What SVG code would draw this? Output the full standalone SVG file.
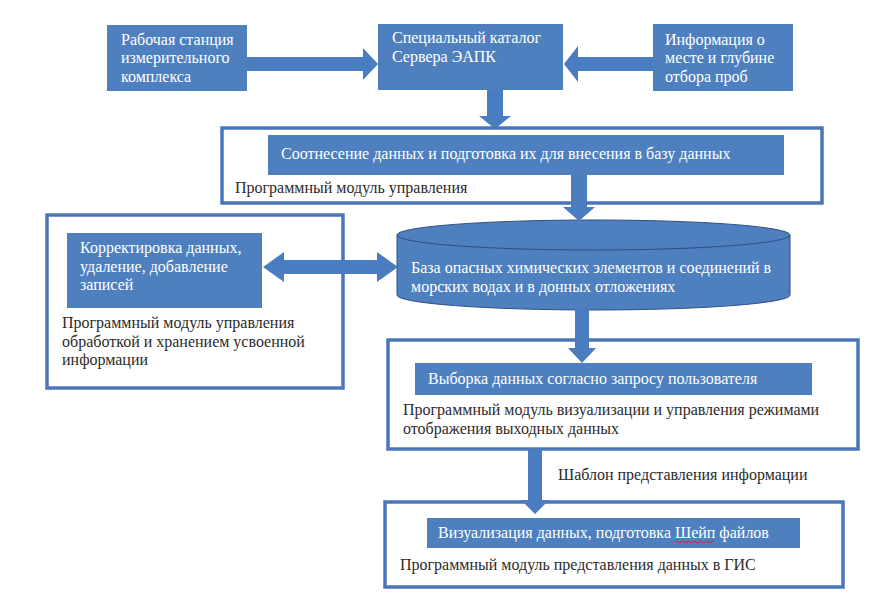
<svg xmlns="http://www.w3.org/2000/svg" width="881" height="611" viewBox="0 0 881 611" font-family="'Liberation Serif', 'DejaVu Serif', serif">
<style>
.blue{fill:#4e7fbf;}
.outer{fill:#ffffff;stroke:#4a76b8;stroke-width:3.5;}
.arrow{fill:#4a7cc0;}
.wt{font-size:16px;fill:#ffffff;}
.dt{font-size:16px;fill:#2b2b2b;}
</style>
<rect width="881" height="611" fill="#ffffff"/>
<g id="n1">
<rect class="blue" x="107" y="25" width="140" height="66"/>
<text class="wt" x="121" y="45">Рабочая станция</text>
<text class="wt" x="121" y="63">измерительного</text>
<text class="wt" x="121" y="82">комплекса</text>
</g>
<g id="n2">
<rect class="blue" x="378" y="24" width="185" height="66"/>
<text class="wt" x="392" y="43">Специальный каталог</text>
<text class="wt" x="392" y="62">Сервера ЭАПК</text>
</g>
<g id="n3">
<rect class="blue" x="653" y="24" width="140" height="67"/>
<text class="wt" x="665" y="45">Информация о</text>
<text class="wt" x="665" y="63">месте и глубине</text>
<text class="wt" x="665" y="82">отбора проб</text>
</g>
<g id="n4">
<rect class="outer" x="222" y="128" width="600" height="75"/>
<rect class="blue" x="268" y="135" width="516" height="40"/>
<text class="wt" x="281" y="159">Соотнесение данных и подготовка их для внесения в базу данных</text>
<text class="dt" x="235" y="193">Программный модуль управления</text>
</g>
<g id="n5">
<rect class="outer" x="47" y="215" width="296" height="173"/>
<rect class="blue" x="67" y="233" width="195" height="75"/>
<text class="wt" x="80" y="253">Корректировка данных,</text>
<text class="wt" x="80" y="272">удаление, добавление</text>
<text class="wt" x="80" y="290">записей</text>
<text class="dt" x="62" y="328">Программный модуль управления</text>
<text class="dt" x="62" y="347">обработкой и хранением усвоенной</text>
<text class="dt" x="62" y="365">информации</text>
</g>
<g id="n6">
<path d="M397,235 V295 A196.5,15 0 0 0 790,295 V235 Z" fill="#4e7fbf" stroke="#2f4f80" stroke-width="1"/>
<ellipse cx="593.5" cy="235" rx="196.5" ry="15" fill="#4e7fbf" stroke="#2f4f80" stroke-width="1"/>
<text class="wt" x="411" y="273">База опасных химических элементов и соединений в</text>
<text class="wt" x="411" y="292">морских водах и в донных отложениях</text>
</g>
<g id="n7">
<rect class="outer" x="388" y="340" width="470" height="109"/>
<rect class="blue" x="415" y="363" width="397" height="32"/>
<text class="wt" x="428" y="384">Выборка данных согласно запросу пользователя</text>
<text class="dt" x="403" y="415">Программный модуль визуализации и управления режимами</text>
<text class="dt" x="403" y="434">отображения выходных данных</text>
</g>
<g id="n8">
<rect class="outer" x="385" y="502" width="458" height="85"/>
<rect class="blue" x="427" y="518" width="373" height="30"/>
<text class="wt" x="438" y="538">Визуализация данных, подготовка Шейп файлов</text>
<path d="M675,542 q1.5,-2 3,0 t3,0 t3,0 t3,0 t3,0 t3,0 t3,0 t3,0 t3,0 t3,0 t3,0 t3,0 t3,0" fill="none" stroke="#e02020" stroke-width="1"/>
<text class="dt" x="400" y="570">Программный модуль представления данных в ГИС</text>
</g>
<g id="connectors">
<path class="arrow" d="M247,57 H363 V48 L378,64 L363,80 V71 H247 Z"/>
<path class="arrow" d="M653,57 H578 V46 L564,64 L578,82 V71 H653 Z"/>
<path class="arrow" d="M487,90 V116 H479 L495,129 L511,116 H503 V90 Z"/>
<path class="arrow" d="M571,175 V207 H563 L579,221 L595,207 H587 V175 Z"/>
<path class="arrow" d="M263,267 L284,252 V260 H377 V252 L398,267 L377,282 V274 H284 V282 Z"/>
<path class="arrow" d="M575,308 V348 H568 L582,363 L596,348 H589 V308 Z"/>
<path class="arrow" d="M528,449 V500 H521 L535,514 L549,500 H542 V449 Z"/>
<text class="dt" x="558" y="480">Шаблон представления информации</text>
</g>
</svg>
